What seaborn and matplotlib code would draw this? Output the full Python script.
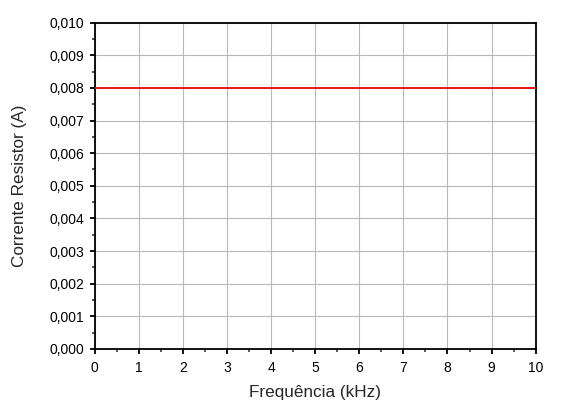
import matplotlib
matplotlib.use("Agg")
import matplotlib.pyplot as plt
from matplotlib.ticker import MultipleLocator, FuncFormatter
import seaborn as sns
import pandas as pd

# dados
frequencia_khz = [0, 1, 2, 3, 4, 5, 6, 7, 8, 9, 10]
corrente_a = [0.008, 0.008, 0.008, 0.008, 0.008, 0.008, 0.008, 0.008, 0.008, 0.008, 0.008]
x_ticks = [0, 1, 2, 3, 4, 5, 6, 7, 8, 9, 10]
y_ticks = [0.000, 0.001, 0.002, 0.003, 0.004, 0.005, 0.006, 0.007, 0.008, 0.009, 0.010]

sns.set_theme(style="white")
plt.rcParams['font.family'] = ['Liberation Sans', 'DejaVu Sans']

df = pd.DataFrame({"freq": frequencia_khz, "corrente": corrente_a})

fig = plt.figure(figsize=(5.66, 4.12), dpi=100)
ax = fig.add_axes([0.167, 0.153, 0.7795, 0.792])

sns.lineplot(data=df, x="freq", y="corrente", color="#e8141c", linewidth=1.4, ax=ax, zorder=3)

ax.set_xlim(0, 10)
ax.set_ylim(0, 0.010)
ax.set_xticks(x_ticks)
ax.set_yticks(y_ticks)
ax.xaxis.set_minor_locator(MultipleLocator(0.5))
ax.yaxis.set_minor_locator(MultipleLocator(0.0005))
ax.yaxis.set_major_formatter(FuncFormatter(lambda v, p: f"{v:.3f}".replace(".", ",")))
ax.xaxis.set_major_formatter(FuncFormatter(lambda v, p: f"{v:.0f}"))

ax.grid(True, which="major", color="#b8b8b8", linewidth=0.8)
ax.tick_params(axis="both", which="major", direction="out", length=3.6, width=1.3,
               labelsize=10, colors="black", bottom=True, left=True)
ax.tick_params(axis="x", which="major", pad=5)
ax.tick_params(axis="y", which="major", pad=4)
ax.tick_params(axis="both", which="minor", direction="out", length=2, width=1.1,
               bottom=True, left=True)
for s in ax.spines.values():
    s.set_color("black")
    s.set_linewidth(1.3)

ax.set_xlabel("Frequência (kHz)", fontsize=12.3, labelpad=7)
ax.set_ylabel("Corrente Resistor (A)", fontsize=12.3, labelpad=16)

fig.savefig("out.png", dpi=100, facecolor="white")
